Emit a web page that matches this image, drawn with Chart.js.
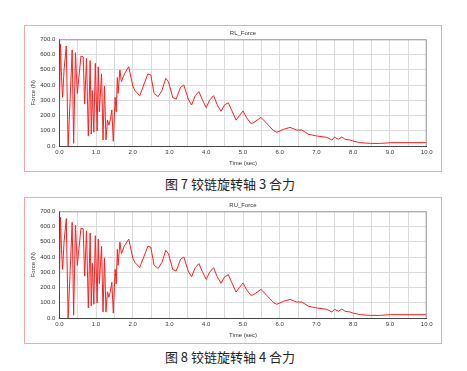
<!DOCTYPE html>
<html>
<head>
<meta charset="utf-8">
<script src="https://cdn.jsdelivr.net/npm/chart.js@4/dist/chart.umd.min.js"></script>
<style>
  body { margin: 0; background: #fff; width: 467px; height: 371px; position: relative; overflow: hidden; }
  .frame { position: absolute; left: 24px; width: 416px; height: 145px; border: 1px solid #f5a5a5; }
  .frame canvas { display: block; }
  .caption { position: absolute; left: 0; width: 460px; text-align: center; font-family: "Noto Sans CJK SC", sans-serif; font-size: 13px; color: #222; line-height: 16px; }
</style>
</head>
<body>
<div class="frame" style="top:25px"><canvas id="rl-chart" width="416" height="145"></canvas></div>
<div class="caption" style="top:176px">图 7&nbsp;铰链旋转轴 3 合力</div>
<div class="frame" style="top:197px"><canvas id="ru-chart" width="416" height="145"></canvas></div>
<div class="caption" style="top:349px">图 8&nbsp;铰链旋转轴 4 合力</div>
<script>
// time axis (sec)
var timeSec = [0, 0.03, 0.06, 0.09, 0.13, 0.19, 0.24, 0.29, 0.35, 0.39, 0.44, 0.49, 0.59, 0.65, 0.69,
    0.74, 0.79, 0.84, 0.87, 0.90, 0.94, 0.98, 1.03, 1.06, 1.09, 1.15, 1.19, 1.23, 1.27, 1.31, 1.35,
    1.39, 1.43, 1.47, 1.52, 1.55, 1.58, 1.60, 1.65, 1.69, 1.77, 1.89, 2.0, 2.06, 2.19, 2.41, 2.49,
    2.58, 2.69, 2.79, 2.9, 2.97, 3.09, 3.18, 3.3, 3.39, 3.51, 3.6, 3.7, 3.8, 3.9, 4.0, 4.09, 4.2,
    4.3, 4.4, 4.5, 4.6, 4.7, 4.81, 4.9, 5.0, 5.1, 5.21, 5.27, 5.49, 5.83, 5.92, 6.1, 6.28, 6.46,
    6.6, 6.78, 7.0, 7.28, 7.42, 7.49, 7.6, 7.69, 7.78, 7.92, 8.01, 8.2, 8.47, 8.74, 9.02, 10.0];

// force (N) for hinge axis 3
var rlForce = [170, 667, 455, 320, 500, 656, 0, 280, 630, 17, 612, 345, 590, 585, 275,
    575, 65, 560, 79, 363, 90, 542, 98, 520, 225, 473, 40, 394, 40, 170, 136,
    175, 236, 31, 319, 225, 450, 345, 499, 422, 472, 520, 394, 363, 330, 473, 466,
    345, 324, 363, 444, 422, 317, 308, 385, 400, 308, 269, 330, 357, 300, 252, 300, 330,
    270, 228, 270, 284, 230, 170, 199, 230, 185, 149, 150, 188, 101, 90, 109, 122, 105,
    105, 77, 66, 57, 39, 57, 44, 59, 44, 39, 31, 22, 17, 17, 22, 22];

// force (N) for hinge axis 4
var ruForce = [165, 662, 450, 318, 500, 652, 0, 280, 628, 18, 610, 345, 590, 585, 275,
    572, 66, 558, 80, 360, 90, 540, 98, 518, 226, 470, 40, 394, 40, 172, 136,
    175, 234, 32, 320, 225, 450, 345, 498, 422, 472, 518, 394, 363, 332, 470, 465,
    346, 325, 363, 444, 422, 318, 308, 385, 400, 308, 270, 330, 357, 300, 253, 300, 330,
    270, 228, 270, 284, 230, 170, 199, 230, 185, 150, 150, 188, 101, 90, 109, 122, 105,
    105, 77, 66, 57, 39, 57, 44, 59, 44, 39, 31, 22, 17, 17, 22, 22];

var tickFont = { family: 'Liberation Sans, Arial, sans-serif', size: 6 };

var plotFrame = {
    id: 'plotFrame',
    afterDraw: function (chart) {
        var a = chart.chartArea, c = chart.ctx;
        c.save();
        c.strokeStyle = '#9a9a9a';
        c.lineWidth = 1;
        c.beginPath();
        c.moveTo(a.left, a.top + 0.5);
        c.lineTo(a.right - 0.5, a.top + 0.5);
        c.lineTo(a.right - 0.5, a.bottom);
        c.stroke();
        c.fillStyle = '#333';
        c.font = '6px Liberation Sans, Arial, sans-serif';
        c.textAlign = 'center';
        c.textBaseline = 'middle';
        c.fillText(chart.options.plugins.plotFrame.text, (a.left + a.right) / 2, 7);
        c.restore();
    }
};

function makeChart(id, title, values) {
    var points = timeSec.map(function (t, i) { return { x: t, y: values[i] }; });
    return new Chart(document.getElementById(id).getContext('2d'), {
        type: 'line',
        data: {
            datasets: [{
                data: points,
                borderColor: '#ff1e1e',
                borderWidth: 1,
                pointRadius: 0,
                tension: 0,
                fill: false
            }]
        },
        options: {
            responsive: false,
            animation: false,
            layout: { padding: { top: 13.3, right: 14.3, left: 0, bottom: 0 } },
            plugins: {
                legend: { display: false },
                tooltip: { enabled: false },
                plotFrame: { text: title }
            },
            scales: {
                x: {
                    type: 'linear',
                    min: 0,
                    max: 10,
                    afterFit: function (s) { s.height = 25; },
                    ticks: {
                        stepSize: 0.5,
                        autoSkip: false,
                        maxRotation: 0,
                        padding: 3,
                        color: '#333',
                        font: tickFont,
                        callback: function (v) { return v % 1 === 0 ? v.toFixed(1) : ''; }
                    },
                    grid: { color: '#dadada', drawTicks: false },
                    border: { color: '#444', width: 1 },
                    title: { display: true, text: 'Time (sec)', color: '#333', font: tickFont, padding: { top: 0, bottom: 4.4 } }
                },
                y: {
                    min: 0,
                    max: 700,
                    afterFit: function (s) { s.width = 34.3; },
                    ticks: {
                        stepSize: 50,
                        padding: 4,
                        color: '#333',
                        font: tickFont,
                        callback: function (v) { return v % 100 === 0 ? v.toFixed(1) : ''; }
                    },
                    grid: { color: '#dadada', drawTicks: false },
                    border: { color: '#444', width: 1 },
                    title: { display: true, text: 'Force (N)', color: '#333', font: tickFont, padding: { top: 4.4, bottom: 0 } }
                }
            }
        },
        plugins: [plotFrame]
    });
}

makeChart('rl-chart', 'RL_Force', rlForce);
makeChart('ru-chart', 'RU_Force', ruForce);
</script>
</body>
</html>
